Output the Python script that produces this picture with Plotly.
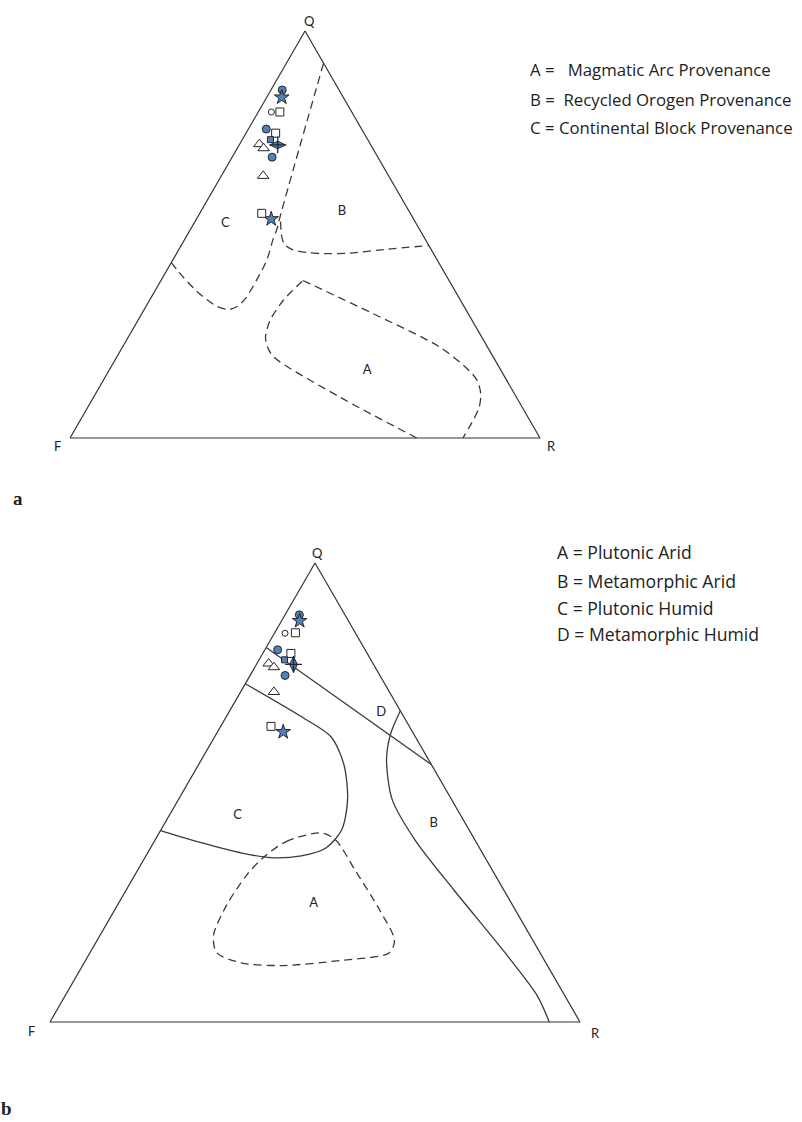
import plotly.graph_objects as go

W, H = 802, 1122

# ---------------- Diagram (a): Q-F-R provenance fields ----------------
# sample points (percent Q, F, R)
a_star_q, a_star_f, a_star_r = [83.7, 53.8], [13.1, 30.3], [3.2, 15.9]
a_oval_q, a_oval_f, a_oval_r = [85.5, 75.9, 69.0], [12.1, 20.3, 22.5], [2.4, 3.8, 8.5]
a_sq_q, a_sq_f, a_sq_r = [80.1, 74.9, 55.2], [15.3, 18.8, 31.6], [4.6, 6.3, 13.2]
a_tri_q, a_tri_f, a_tri_r = [72.2, 71.2, 64.4], [23.6, 23.2, 26.7], [4.2, 5.6, 8.9]
a_circ_q, a_circ_f, a_circ_r = [80.1], [17.1], [2.8]
a_fsq_q, a_fsq_f, a_fsq_r = [73.3], [20.7], [6.0]
a_plus_q, a_plus_f, a_plus_r = [72.0], [19.8], [8.2]

# field boundaries
a_C_q = [92.1, 53.7, 52.1, 48.8, 43.8, 38.9, 34.3, 32.3, 31.6, 32.3, 35.2, 39.3, 43.1]
a_C_f = [0.0, 28.6, 29.7, 32.4, 36.2, 40.8, 45.5, 48.3, 50.4, 52.5, 54.6, 56.1, 56.9]
a_C_r = [7.9, 17.7, 18.2, 18.8, 20.0, 20.3, 20.2, 19.4, 18.0, 15.2, 10.2, 4.6, 0.0]

a_B_q = [53.2, 49.5, 47.5, 46.3, 45.5, 45.3, 45.4, 46.3, 47.3]
a_B_f = [28.6, 30.2, 30.6, 29.5, 26.3, 23.2, 17.9, 10.1, 0.0]
a_B_r = [18.2, 20.3, 21.9, 24.2, 28.2, 31.5, 36.7, 43.6, 52.7]

a_A1_q = [0.0, 10.0, 19.9, 22.4, 24.8, 29.0, 33.9, 38.7]
a_A1_f = [26.2, 37.5, 46.7, 46.8, 46.0, 42.9, 37.6, 31.1]
a_A1_r = [73.8, 52.5, 33.4, 30.8, 29.2, 28.1, 28.5, 30.2]
a_A2_q = [38.7, 30.6, 22.4, 16.6, 14.1, 10.8, 7.5, 4.2, 0.0]
a_A2_f = [31.1, 20.3, 10.2, 6.8, 6.3, 7.2, 9.2, 12.2, 16.4]
a_A2_r = [30.2, 49.1, 67.4, 76.6, 79.6, 82.0, 83.3, 83.6, 83.6]

a_field_labels = ["C", "B", "A"]
a_field_q = [52.7, 55.7, 16.6]
a_field_f = [40.6, 14.3, 28.5]
a_field_r = [6.7, 30.0, 54.9]

a_legend = ["A =   Magmatic Arc Provenance",
            "B =  Recycled Orogen Provenance",
            "C = Continental Block Provenance"]

# ---------------- Diagram (b): Q-F-R climate / source fields ----------------
b_star_q, b_star_f, b_star_r = [87.4, 63.2], [9.2, 24.4], [3.4, 12.4]
b_oval_q, b_oval_f, b_oval_r = [88.7, 81.1, 75.5], [8.6, 16.5, 17.9], [2.7, 2.4, 6.6]
b_sq_q, b_sq_f, b_sq_r = [84.8, 80.3, 64.4], [11.3, 14.4, 26.1], [3.9, 5.3, 9.5]
b_tri_q, b_tri_f, b_tri_r = [78.1, 77.3, 71.9], [19.7, 19.1, 21.8], [2.2, 3.6, 6.3]
b_circ_q, b_circ_f, b_circ_r = [84.7], [13.3], [2.0]
b_fsq_q, b_fsq_f, b_fsq_r = [78.9], [16.3], [4.8]
b_plus_q, b_plus_f, b_plus_r = [77.9], [15.1], [7.0]

b_top_q, b_top_f, b_top_r = [81.6, 56.1], [18.4, 0.0], [0.0, 43.9]

b_C_q = [73.7, 66.5, 62.1, 56.1, 48.5, 41.9, 37.9, 36.2, 35.8, 36.8, 39.0, 41.7]
b_C_f = [26.3, 19.3, 15.9, 16.5, 19.6, 24.0, 29.0, 34.5, 40.4, 45.4, 51.8, 58.3]
b_C_r = [0.0, 14.2, 22.0, 27.4, 31.9, 34.1, 33.1, 29.3, 23.8, 17.8, 9.2, 0.0]

b_D_q = [67.8, 62.7, 57.2, 48.5, 39.7, 28.7, 15.6, 5.7, 0.0]
b_D_f = [0.0, 4.4, 7.9, 11.2, 11.3, 9.4, 6.7, 5.2, 5.8]
b_D_r = [32.2, 32.9, 34.9, 40.3, 49.0, 61.9, 77.7, 89.1, 94.2]

b_A_q = [35.8, 39.3, 41.2, 39.7, 33.1, 24.3, 17.8, 15.1, 13.4, 12.3, 12.9, 15.1, 18.9, 25.4, 32.0, 35.8]
b_A_f = [41.9, 35.8, 28.3, 26.3, 25.9, 25.6, 26.1, 28.4, 38.6, 50.3, 57.5, 61.0, 59.7, 54.0, 46.9, 41.9]
b_A_r = [22.3, 24.9, 30.5, 34.0, 41.0, 50.1, 56.1, 56.5, 48.0, 37.4, 29.6, 23.9, 21.4, 20.6, 21.1, 22.3]

b_field_labels = ["D", "C", "B", "A"]
b_field_q = [67.4, 45.0, 43.2, 25.7]
b_field_f = [3.8, 42.1, 6.0, 37.4]
b_field_r = [28.8, 12.9, 50.8, 36.9]

b_legend = ["A = Plutonic Arid",
            "B = Metamorphic Arid",
            "C = Plutonic Humid",
            "D = Metamorphic Humid"]

# ---------------- styling ----------------
FONT = "Lato, 'Open Sans', sans-serif"
LEG_FONT = "'Open Sans', Lato, sans-serif"
INK = "#222222"
BLUE = "#4F81BD"
EDGE = "#262626"
BOUND = "#3a3a3a"
DASH = "8px,5px"


def px_x(x):
    return x / W


def px_y(y):
    return 1 - y / H


fig = go.Figure()


def add_samples(sub, star, oval, sq, tri, circ, fsq, plus, bar_symbol):
    def pts(d, sym, size, fill, lw=1.0):
        q, f, r = d
        fig.add_trace(go.Scatterternary(
            a=q, b=f, c=r, mode="markers", subplot=sub, showlegend=False,
            hoverinfo="skip",
            marker=dict(symbol=sym, size=size, color=fill,
                        line=dict(color=EDGE, width=lw))))
    pts(oval, "circle", 8, BLUE)
    pts(star, "star", 11, BLUE)
    pts(circ, "circle", 6, "white")
    pts(sq, "square", 8, "white")
    pts(fsq, "square", 6, BLUE)
    pts(tri, "triangle-up", 10, "white")
    pts(plus, bar_symbol, 11, BLUE)
    pts(plus, "cross-thin", 12, EDGE, 1.3)


def add_boundary(sub, q, f, r, dash):
    fig.add_trace(go.Scatterternary(
        a=q, b=f, c=r, mode="lines", subplot=sub, showlegend=False,
        hoverinfo="skip",
        line=dict(color=BOUND, width=1.3, dash=dash, shape="spline",
                  smoothing=0.8)))


def add_field_labels(sub, labels, q, f, r):
    fig.add_trace(go.Scatterternary(
        a=q, b=f, c=r, mode="text", text=labels, subplot=sub,
        showlegend=False, hoverinfo="skip",
        textfont=dict(family=FONT, size=13, color=INK)))


# diagram (a)
add_boundary("ternary", a_C_q, a_C_f, a_C_r, DASH)
add_boundary("ternary", a_B_q, a_B_f, a_B_r, DASH)
add_boundary("ternary", a_A1_q, a_A1_f, a_A1_r, DASH)
add_boundary("ternary", a_A2_q, a_A2_f, a_A2_r, DASH)
add_field_labels("ternary", a_field_labels, a_field_q, a_field_f, a_field_r)
add_samples("ternary",
            (a_star_q, a_star_f, a_star_r), (a_oval_q, a_oval_f, a_oval_r),
            (a_sq_q, a_sq_f, a_sq_r), (a_tri_q, a_tri_f, a_tri_r),
            (a_circ_q, a_circ_f, a_circ_r), (a_fsq_q, a_fsq_f, a_fsq_r),
            (a_plus_q, a_plus_f, a_plus_r), "diamond-wide")

# diagram (b)
add_boundary("ternary2", b_top_q, b_top_f, b_top_r, "solid")
add_boundary("ternary2", b_C_q, b_C_f, b_C_r, "solid")
add_boundary("ternary2", b_D_q, b_D_f, b_D_r, "solid")
add_boundary("ternary2", b_A_q, b_A_f, b_A_r, DASH)
add_field_labels("ternary2", b_field_labels, b_field_q, b_field_f, b_field_r)
add_samples("ternary2",
            (b_star_q, b_star_f, b_star_r), (b_oval_q, b_oval_f, b_oval_r),
            (b_sq_q, b_sq_f, b_sq_r), (b_tri_q, b_tri_f, b_tri_r),
            (b_circ_q, b_circ_f, b_circ_r), (b_fsq_q, b_fsq_f, b_fsq_r),
            (b_plus_q, b_plus_f, b_plus_r), "diamond-tall")

axis = dict(showticklabels=False, ticks="", showgrid=False, showline=True,
            linecolor="#333333", linewidth=1.2, title=dict(text=""),
            min=0)


def tern(x0, x1, y0, y1):
    return dict(domain=dict(x=[px_x(x0), px_x(x1)], y=[px_y(y1), px_y(y0)]),
                sum=100, bgcolor="rgba(0,0,0,0)",
                aaxis=axis, baxis=axis, caxis=axis)


annotations = []


def label(text, x, y, size=12, xanchor="center", family=FONT, bold=False):
    annotations.append(dict(
        text=f"<b>{text}</b>" if bold else text, x=px_x(x), y=px_y(y),
        xref="paper", yref="paper", showarrow=False, xanchor=xanchor,
        yanchor="middle", font=dict(family=family, size=size, color=INK)))


# vertex labels
label("Q", 309, 21, size=13)
label("F", 57, 446, size=13)
label("R", 551, 446, size=13)
label("Q", 317, 553, size=13)
label("F", 31, 1031, size=13)
label("R", 595, 1033, size=13)

# legends
a_leg_y = [69, 100, 128]
for t, y in zip(a_legend, a_leg_y):
    label(t, 528, y, size=16.8, xanchor="left", family=LEG_FONT)
b_leg_y = [552, 581, 608, 634]
for t, y in zip(b_legend, b_leg_y):
    label(t, 555, y, size=17.6, xanchor="left", family=LEG_FONT)

# panel letters
SERIF = "'Liberation Serif', 'DejaVu Serif', serif"
label("a", 18, 498, size=19, family=SERIF, bold=True)
label("b", 7, 1108, size=19, family=SERIF, bold=True)

fig.update_layout(
    width=W, height=H, autosize=False,
    margin=dict(l=0, r=0, t=0, b=0),
    paper_bgcolor="white", plot_bgcolor="white",
    ternary=tern(70, 540, 31, 438),
    ternary2=tern(50, 580, 563, 1022),
    annotations=annotations,
    showlegend=False,
)

fig.write_html("out.html")
